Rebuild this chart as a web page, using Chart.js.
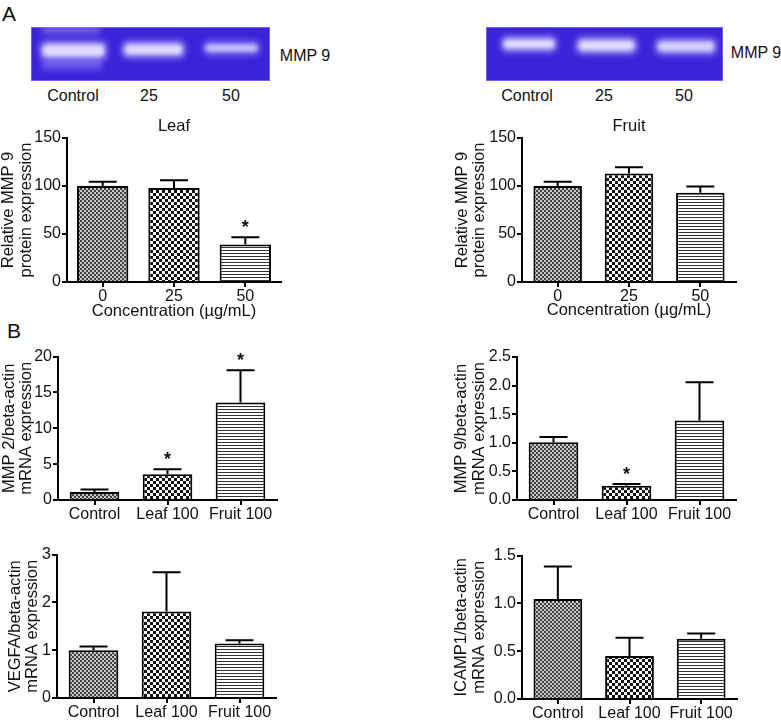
<!DOCTYPE html>
<html>
<head>
<meta charset="utf-8">
<script src="https://cdn.jsdelivr.net/npm/chart.js@4.4.1/dist/chart.umd.min.js"></script>
<style>
body { margin: 0; background: #fff; }
#fig { position: relative; width: 781px; height: 721px; overflow: hidden; font-family: 'Liberation Sans', Arial, sans-serif; color: #111; }
.lbl { position: absolute; font-size: 16px; transform: translate(-50%, -50%); white-space: nowrap; line-height: 1; }
.big { position: absolute; font-size: 21px; line-height: 1; }
canvas { position: absolute; }
</style>
</head>
<body>
<div id="fig">
  <div class="big" style="left:2px;top:3px">A</div>
  <div class="big" style="left:7px;top:320px">B</div>
  <canvas id="gel1" width="239" height="54" style="left:31px;top:27px"></canvas>
  <canvas id="gel2" width="237" height="54" style="left:486px;top:27px"></canvas>
  <div class="lbl" style="left:305px;top:56px">MMP 9</div>
  <div class="lbl" style="left:756px;top:53px">MMP 9</div>
  <div class="lbl" id="g1l0" style="left:73px;top:96px"></div>
  <div class="lbl" id="g1l1" style="left:149px;top:96px"></div>
  <div class="lbl" id="g1l2" style="left:231px;top:96px"></div>
  <div class="lbl" id="g2l0" style="left:527px;top:96px"></div>
  <div class="lbl" id="g2l1" style="left:604px;top:96px"></div>
  <div class="lbl" id="g2l2" style="left:684px;top:96px"></div>
</div>
<script>
// values (mean and upper SD)
var gelLanes = ['Control', '25', '50'];
var doseLabels = ['0', '25', '50'];
var treatLabels = ['Control', 'Leaf 100', 'Fruit 100'];

var leafMean = [100, 98, 39];
var leafSD = [4.5, 8, 7.5];
var leafSig = ['', '', '*'];

var fruitMean = [100, 113, 93];
var fruitSD = [4.5, 6.5, 6.5];
var fruitSig = ['', '', ''];

var mmp2Mean = [1.1, 3.6, 13.6];
var mmp2SD = [0.35, 0.7, 4.5];
var mmp2Sig = ['', '*', '*'];

var mmp9Mean = [1.01, 0.25, 1.39];
var mmp9SD = [0.09, 0.03, 0.67];
var mmp9Sig = ['', '*', ''];

var vegfaMean = [1.0, 1.81, 1.14];
var vegfaSD = [0.08, 0.82, 0.07];
var vegfaSig = ['', '', ''];

var icamMean = [1.045, 0.45, 0.63];
var icamSD = [0.34, 0.19, 0.055];
var icamSig = ['', '', ''];

var FONT = "'Liberation Sans', Arial, sans-serif";
Chart.defaults.font.family = FONT;
Chart.defaults.color = '#111';

gelLanes.forEach(function (t, i) {
  document.getElementById('g1l' + i).textContent = t;
  document.getElementById('g2l' + i).textContent = t;
});

// gel photos (just pictures, not data)
function drawGel(id, bands) {
  var c = document.getElementById(id);
  var g = c.getContext('2d');
  g.fillStyle = '#3c22d8';
  g.fillRect(0, 0, c.width, c.height);
  g.strokeStyle = 'rgba(150,140,255,0.6)';
  g.lineWidth = 1;
  g.strokeRect(0.5, 0.5, c.width - 1, c.height - 1);
  bands.forEach(function (b) {
    g.filter = 'blur(3px)';
    g.fillStyle = b[4];
    g.beginPath();
    g.roundRect(b[0] - 2, b[1] - 2, b[2] + 4, b[3] + 4, 6);
    g.fill();
    g.filter = 'blur(2px)';
    g.fillStyle = b[5];
    g.beginPath();
    g.roundRect(b[0] + 1, b[1] + 2, b[2] - 2, b[3] - 4, 5);
    g.fill();
  });
  g.filter = 'none';
}
drawGel('gel1', [
  [11, 0, 58, 6, 'rgba(160,140,255,0.4)', 'rgba(190,180,255,0.3)'],
  [11, 33, 60, 10, 'rgba(140,120,255,0.35)', 'rgba(170,155,255,0.25)'],
  [11, 16, 63, 15, 'rgba(190,180,255,0.75)', 'rgba(232,228,255,0.9)'],
  [93, 16, 59, 13, 'rgba(190,180,255,0.75)', 'rgba(232,228,255,0.9)'],
  [174, 16, 53, 10, 'rgba(175,165,255,0.65)', 'rgba(220,215,255,0.85)']
]);
drawGel('gel2', [
  [17, 11, 52, 12, 'rgba(190,180,255,0.75)', 'rgba(232,228,255,0.9)'],
  [92, 12, 57, 13, 'rgba(190,180,255,0.75)', 'rgba(232,228,255,0.9)'],
  [171, 13, 58, 13, 'rgba(180,170,255,0.7)', 'rgba(225,220,255,0.87)']
]);

function makePattern(ctx, kind) {
  var t = document.createElement('canvas');
  var g;
  if (kind === 'fine') {
    t.width = 4; t.height = 4; g = t.getContext('2d');
    g.fillStyle = '#c8c8c8'; g.fillRect(0, 0, 4, 4);
    g.fillStyle = '#404040'; g.fillRect(0, 0, 2, 2); g.fillRect(2, 2, 2, 2);
  } else if (kind === 'check') {
    t.width = 6; t.height = 6; g = t.getContext('2d');
    g.fillStyle = '#fff'; g.fillRect(0, 0, 6, 6);
    g.fillStyle = '#111'; g.fillRect(0, 0, 3, 3); g.fillRect(3, 3, 3, 3);
  } else {
    t.width = 3; t.height = 3; g = t.getContext('2d');
    g.fillStyle = '#fff'; g.fillRect(0, 0, 3, 3);
    g.fillStyle = '#333'; g.fillRect(0, 0, 3, 1);
  }
  return ctx.createPattern(t, 'repeat');
}

var errPlugin = {
  id: 'errbars',
  afterDatasetsDraw: function (chart, args, opts) {
    var ctx = chart.ctx, ys = chart.scales.y;
    var vals = chart.data.datasets[0].data;
    ctx.save();
    ctx.strokeStyle = '#000';
    ctx.lineWidth = 2;
    chart.getDatasetMeta(0).data.forEach(function (bar, i) {
      var top = ys.getPixelForValue(vals[i]);
      var hi = ys.getPixelForValue(vals[i] + opts.sd[i]);
      ctx.beginPath();
      ctx.moveTo(bar.x, top); ctx.lineTo(bar.x, hi);
      ctx.moveTo(bar.x - 14, hi); ctx.lineTo(bar.x + 14, hi);
      ctx.stroke();
      if (opts.sig[i]) {
        ctx.font = 'bold 18px ' + FONT;
        ctx.textAlign = 'center';
        ctx.textBaseline = 'alphabetic';
        ctx.fillStyle = '#111';
        ctx.fillText(opts.sig[i], bar.x, hi - 4);
      }
    });
    ctx.restore();
  }
};

function barChart(o) {
  var L = o.box[0], T = o.box[1], W = o.box[2], H = o.box[3];
  var x0 = o.area[0], y0 = o.area[1], x1 = o.area[2], y1 = o.area[3];
  var cv = document.createElement('canvas');
  cv.width = W; cv.height = H;
  cv.style.left = L + 'px'; cv.style.top = T + 'px';
  document.getElementById('fig').appendChild(cv);
  var ctx = cv.getContext('2d');

  var tLH = 20, yLH = 17.5;
  var padTop = y0 - T;
  var titleOpt = { display: false };
  if (o.title) {
    var pt = o.titleY - T - tLH / 2;
    titleOpt = {
      display: true, text: o.title, fullSize: false, color: '#111',
      font: { size: 16.5, weight: 'normal', lineHeight: tLH / 16.5 },
      padding: { top: pt, bottom: y0 - T - pt - tLH }
    };
    padTop = 0;
  }
  var xTitle = { display: false };
  if (o.xTitle) {
    xTitle = {
      display: true, text: o.xTitle, color: '#111',
      font: { size: 16.5, lineHeight: tLH / 16.5 },
      padding: { top: 0, bottom: T + H - o.xTitleY - tLH / 2 }
    };
  }

  return new Chart(ctx, {
    type: 'bar',
    data: {
      labels: o.labels,
      datasets: [{
        data: o.mean,
        backgroundColor: [makePattern(ctx, 'fine'), makePattern(ctx, 'check'), makePattern(ctx, 'lines')],
        borderColor: '#000',
        borderWidth: 2,
        borderSkipped: 'start',
        barPercentage: o.barPct || 0.68,
        categoryPercentage: 1
      }]
    },
    options: {
      responsive: false,
      animation: false,
      devicePixelRatio: 1,
      layout: { padding: { left: 0, top: padTop, right: L + W - x1, bottom: 0 } },
      plugins: {
        legend: { display: false },
        tooltip: { enabled: false },
        title: titleOpt,
        errbars: { sd: o.sd, sig: o.sig }
      },
      scales: {
        x: {
          offset: true,
          grid: { offset: false, drawOnChartArea: false, drawTicks: true, tickLength: 5, color: '#000', lineWidth: 2 },
          border: { display: true, color: '#000', width: 2 },
          ticks: { font: { size: 16 }, color: '#111', padding: 0, maxRotation: 0, autoSkip: false },
          title: xTitle,
          afterFit: function (s) { s.height = T + H - y1; }
        },
        y: {
          min: 0,
          max: o.yMax,
          ticks: {
            stepSize: o.step, font: { size: 16 }, color: '#111', padding: 1,
            callback: function (v) { return Number(v).toFixed(o.dec); }
          },
          grid: { drawOnChartArea: false, drawTicks: true, tickLength: 5, color: '#000', lineWidth: 2 },
          border: { display: true, color: '#000', width: 2 },
          title: {
            display: true, text: o.yTitle, color: '#111',
            font: { size: 16.5, lineHeight: yLH / 16.5 },
            padding: { top: o.yTitleX - L - yLH / 2, bottom: 0 }
          },
          afterFit: function (s) { s.width = x0 - L; }
        }
      }
    },
    plugins: [errPlugin]
  });
}

var xConc = 'Concentration (\u00b5g/mL)';

barChart({ box: [0, 112, 300, 212], area: [67, 138, 281, 282], labels: doseLabels,
  mean: leafMean, sd: leafSD, sig: leafSig, title: 'Leaf', titleY: 126, xTitle: xConc, xTitleY: 311,
  yTitle: ['Relative MMP 9', 'protein expression'], yTitleX: 8.5, yMax: 150, step: 50, dec: 0, barPct: 0.72 });

barChart({ box: [450, 112, 300, 212], area: [522, 138, 736, 282], labels: doseLabels,
  mean: fruitMean, sd: fruitSD, sig: fruitSig, title: 'Fruit', titleY: 126, xTitle: xConc, xTitleY: 310,
  yTitle: ['Relative MMP 9', 'protein expression'], yTitleX: 462, yMax: 150, step: 50, dec: 0 });

barChart({ box: [0, 346, 290, 184], area: [58, 356, 277, 500], labels: treatLabels,
  mean: mmp2Mean, sd: mmp2SD, sig: mmp2Sig,
  yTitle: ['MMP 2/beta-actin', 'mRNA expression'], yTitleX: 9, yMax: 20, step: 5, dec: 0 });

barChart({ box: [450, 346, 300, 184], area: [517, 357, 736, 500], labels: treatLabels,
  mean: mmp9Mean, sd: mmp9SD, sig: mmp9Sig,
  yTitle: ['MMP 9/beta-actin', 'mRNA expression'], yTitleX: 461.5, yMax: 2.5, step: 0.5, dec: 1 });

barChart({ box: [0, 544, 290, 177], area: [57, 554, 276, 698], labels: treatLabels,
  mean: vegfaMean, sd: vegfaSD, sig: vegfaSig,
  yTitle: ['VEGFA/beta-actin', 'mRNA expression'], yTitleX: 15, yMax: 3, step: 1, dec: 0 });

barChart({ box: [450, 545, 300, 176], area: [522, 555, 737, 699], labels: treatLabels,
  mean: icamMean, sd: icamSD, sig: icamSig,
  yTitle: ['ICAMP1/beta-actin', 'mRNA expression'], yTitleX: 461.5, yMax: 1.5, step: 0.5, dec: 1 });
</script>
</body>
</html>
